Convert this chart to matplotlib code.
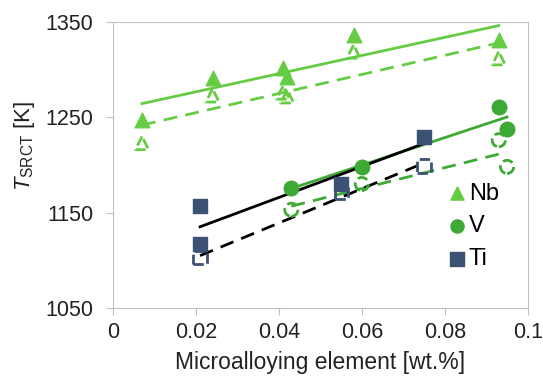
import numpy as np
import matplotlib.pyplot as plt

# filled markers (solid fit) and open markers (dashed fit)
nb_x = [0.007, 0.024, 0.041, 0.042, 0.058, 0.093]
nb_y = [1247, 1291, 1302, 1292, 1336, 1331]
nb_x_open = [0.007, 0.024, 0.041, 0.042, 0.058, 0.093]
nb_y_open = [1223, 1273, 1276, 1272, 1319, 1312]

v_x = [0.043, 0.060, 0.093, 0.095]
v_y = [1176, 1198, 1261, 1238]
v_x_open = [0.043, 0.060, 0.093, 0.095]
v_y_open = [1153, 1180, 1226, 1198]

ti_x = [0.021, 0.021, 0.055, 0.075]
ti_y = [1157, 1117, 1180, 1229]
ti_x_open = [0.021, 0.055, 0.075]
ti_y_open = [1103, 1171, 1199]

plt.rcParams['font.family'] = ['Liberation Sans', 'DejaVu Sans']
plt.rcParams['mathtext.fontset'] = 'custom'
plt.rcParams['mathtext.rm'] = 'Liberation Sans'
plt.rcParams['mathtext.it'] = 'Liberation Sans:italic'

c_nb = '#66CC44'
c_v = '#3FA935'
c_ti = '#3B5274'
grey = '#BFBFBF'
txt = '#222222'

fig = plt.figure(figsize=(5.43, 3.81), dpi=100)
ax = fig.add_axes([0.208, 0.192, 0.764, 0.750])


def fit_line(x, y, color, ls):
    k, b = np.polyfit(x, y, 1)
    xs = np.array([min(x), max(x)])
    ax.plot(xs, k * xs + b, color=color, ls=ls, lw=2, dashes=(5, 3) if ls == '--' else (None, None), zorder=2)


fit_line(nb_x, nb_y, c_nb, '-')
fit_line(nb_x_open, nb_y_open, c_nb, '--')
fit_line(v_x, v_y, c_v, '-')
fit_line(v_x_open, v_y_open, c_v, '--')
fit_line(ti_x, ti_y, 'black', '-')
fit_line(ti_x_open, ti_y_open, 'black', '--')

ax.scatter(nb_x, nb_y, marker='^', s=110, color=c_nb, label='Nb', zorder=3)
ax.scatter(v_x, v_y, marker='o', s=110, color=c_v, label='V', zorder=3)
ax.scatter(ti_x, ti_y, marker='s', s=110, color=c_ti, label='Ti', zorder=3)

ax.scatter(nb_x_open, nb_y_open, marker='^', s=90, facecolors='none', edgecolors=c_nb,
           linewidths=2, linestyles='--', zorder=3)
ax.scatter(v_x_open, v_y_open, marker='o', s=90, facecolors='none', edgecolors=c_v,
           linewidths=2, linestyles='--', zorder=3)
ax.scatter(ti_x_open, ti_y_open, marker='s', s=90, facecolors='none', edgecolors=c_ti,
           linewidths=2, linestyles='--', zorder=3)

ax.set_xlim(0, 0.1)
ax.set_ylim(1050, 1350)
ax.set_xticks([0, 0.02, 0.04, 0.06, 0.08, 0.1])
ax.set_xticklabels(['0', '0.02', '0.04', '0.06', '0.08', '0.1'])
ax.set_yticks([1050, 1150, 1250, 1350])
for s in ax.spines.values():
    s.set_color(grey)
ax.tick_params(colors=grey, labelcolor=txt, labelsize=15.5, length=5, direction='out')
ax.tick_params(axis='y', pad=9)
ax.tick_params(axis='x', pad=5)

ax.set_xlabel('Microalloying element [wt.%]', fontsize=16.5, color=txt, labelpad=6)
ax.set_ylabel(r'$T_{\mathrm{SRCT}}$ [K]', fontsize=16, color=txt)
ax.yaxis.set_label_coords(-0.183, 0.566)

ax.legend(loc='lower right', bbox_to_anchor=(0.97, 0.075), frameon=False, fontsize=17,
          handletextpad=-0.1, handlelength=1.2, labelspacing=0.45, borderaxespad=0.3,
          markerscale=0.9)

fig.savefig('out.png', dpi=100)
